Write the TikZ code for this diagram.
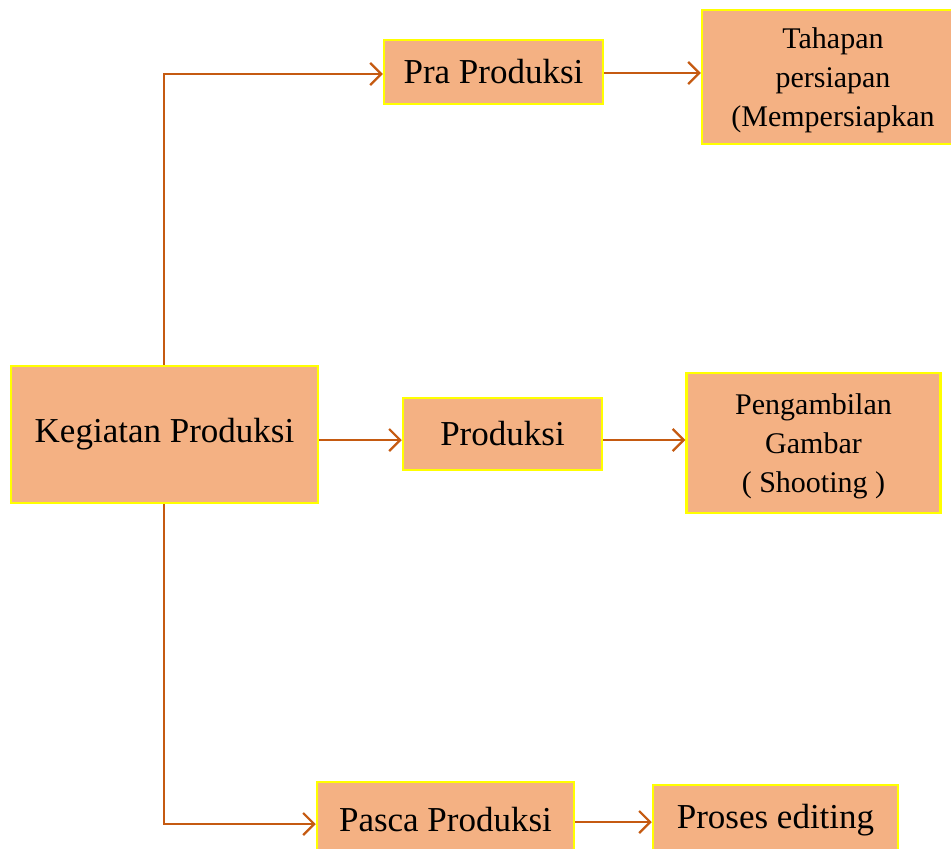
\documentclass[tikz,border=0pt]{standalone}
\usepackage{fontspec}
\setmainfont{Liberation Serif}
\usetikzlibrary{arrows.meta}
\definecolor{boxfill}{HTML}{F4B183}
\definecolor{boxline}{HTML}{FFFF00}
\definecolor{conn}{HTML}{C55A11}
\tikzset{
  box/.style={draw=boxline, line width=2.5pt, fill=boxfill, rectangle, inner sep=0pt, align=center, text=black},
  bigtext/.style={font=\fontsize{35}{42}\selectfont},
  smalltext/.style={font=\fontsize{30}{39}\selectfont},
  conn/.style={draw=conn, line width=2pt, -{Straight Barb[length=11pt,width=22pt,line width=2.2pt]}}
}
\begin{document}
\begin{tikzpicture}[x=1pt,y=-1pt]
\clip (0,0) rectangle (951,849);
\fill[white] (0,0) rectangle (951,849);
\node[box,bigtext,minimum width=307pt,minimum height=137pt] (keg) at (164.5,434.5) {Kegiatan Produksi};
\node[box,bigtext,minimum width=219pt,minimum height=64pt] (pra) at (493.5,72) {Pra Produksi};
\node[box,smalltext,minimum width=262pt,minimum height=134pt,text depth=0pt] (tah) at (833,77) {Tahapan\\persiapan\\(Mempersiapkan};
\node[box,bigtext,minimum width=199pt,minimum height=72pt] (prod) at (502.5,434) {Produksi};
\node[box,smalltext,minimum width=254pt,minimum height=140pt,text depth=0pt] (peng) at (813.5,443) {Pengambilan\\Gambar\\( Shooting )};
\node[box,bigtext,minimum width=257pt,minimum height=76pt] (pasca) at (445.5,820) {Pasca Produksi};
\node[box,bigtext,minimum width=245pt,minimum height=70pt] (pe) at (775.5,820) {Proses editing};
\draw[conn] ([xshift=-0.5pt]keg.north) |- ([yshift=-2pt]pra.west);
\draw[conn] ([yshift=-5.5pt]keg.east) -- ([yshift=-5.5pt]keg.east -| prod.west);
\draw[conn] ([xshift=-0.5pt]keg.south) |- ([yshift=-4pt]pasca.west);
\draw[conn] ([yshift=-1pt]pra.east) -- ([yshift=-1pt]pra.east -| tah.west);
\draw[conn] ([yshift=-6pt]prod.east) -- ([yshift=-6pt]prod.east -| peng.west);
\draw[conn] ([yshift=-2pt]pasca.east) -- ([yshift=-2pt]pasca.east -| pe.west);
\end{tikzpicture}
\end{document}
